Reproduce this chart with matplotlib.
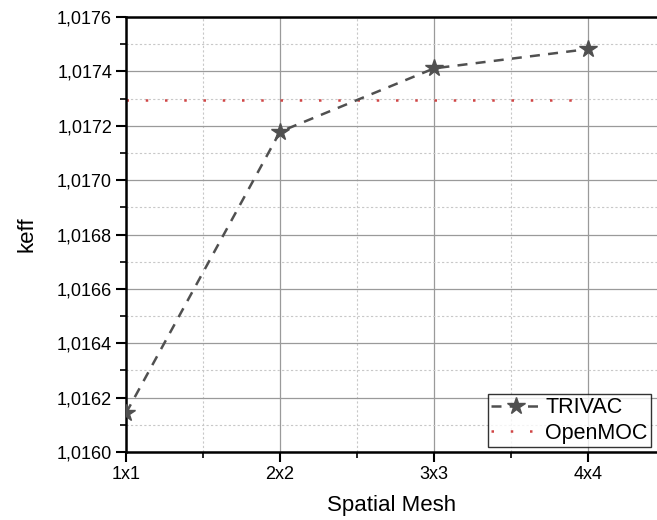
import matplotlib
matplotlib.use("Agg")
import matplotlib.pyplot as plt
from matplotlib.ticker import MultipleLocator, FuncFormatter

plt.rcParams['font.family'] = ['Liberation Sans', 'DejaVu Sans']

mesh = [1, 2, 3, 4]
mesh_labels = ['1x1', '2x2', '3x3', '4x4']
trivac = [1.016143, 1.017178, 1.017411, 1.017482]
openmoc = [1.017295, 1.017295, 1.017295, 1.017295]

fig = plt.figure(figsize=(6.57, 5.2), dpi=100)
ax = fig.add_axes([126 / 657, 68 / 520, 531 / 657, 435 / 520])

ax.plot(mesh, trivac, linestyle=(0, (4, 3.3)), color='#505050', lw=1.8,
        marker='*', markersize=13, markerfacecolor='#505050',
        markeredgecolor='#505050', label='TRIVAC', zorder=3)
ax.plot(mesh, openmoc, linestyle=(0, (1, 6.7)), color='#d04545', lw=1.8,
        label='OpenMOC', zorder=2)

ax.set_xlim(1, 4.448)
ax.set_ylim(1.0160, 1.0176)
ax.set_xticks(mesh)
ax.set_xticklabels(mesh_labels)
ax.xaxis.set_minor_locator(MultipleLocator(0.5))
ax.yaxis.set_major_locator(MultipleLocator(0.0002))
ax.yaxis.set_minor_locator(MultipleLocator(0.0001))
ax.yaxis.set_major_formatter(FuncFormatter(lambda v, p: ('%.4f' % v).replace('.', ',')))

ax.grid(which='major', color='#9a9a9a', lw=0.9, ls='-')
ax.grid(which='minor', color='#c8c8c8', lw=0.8, ls=(0, (2, 2)))
ax.set_axisbelow(True)

for s in ['left', 'bottom', 'top']:
    ax.spines[s].set_linewidth(1.8)
    ax.spines[s].set_color('black')
ax.spines['right'].set_visible(False)
ax.tick_params(which='major', direction='out', length=7, width=1.5, labelsize=13, pad=3)
ax.tick_params(which='minor', direction='out', length=4, width=1.2)
ax.tick_params(top=False, right=False)

ax.set_xlabel('Spatial Mesh', fontsize=16, labelpad=9)
ax.set_ylabel('keff', fontsize=16, labelpad=14)

leg = ax.legend(loc='lower left', bbox_to_anchor=(488 / 657, 73 / 520),
                bbox_transform=fig.transFigure, fontsize=15.5, frameon=True,
                fancybox=False, handlelength=2.3, handletextpad=0.2,
                borderpad=0.15, labelspacing=0.2, borderaxespad=0)
leg.get_frame().set_edgecolor('black')
leg.get_frame().set_linewidth(1.0)

fig.savefig('out.png', dpi=100)
